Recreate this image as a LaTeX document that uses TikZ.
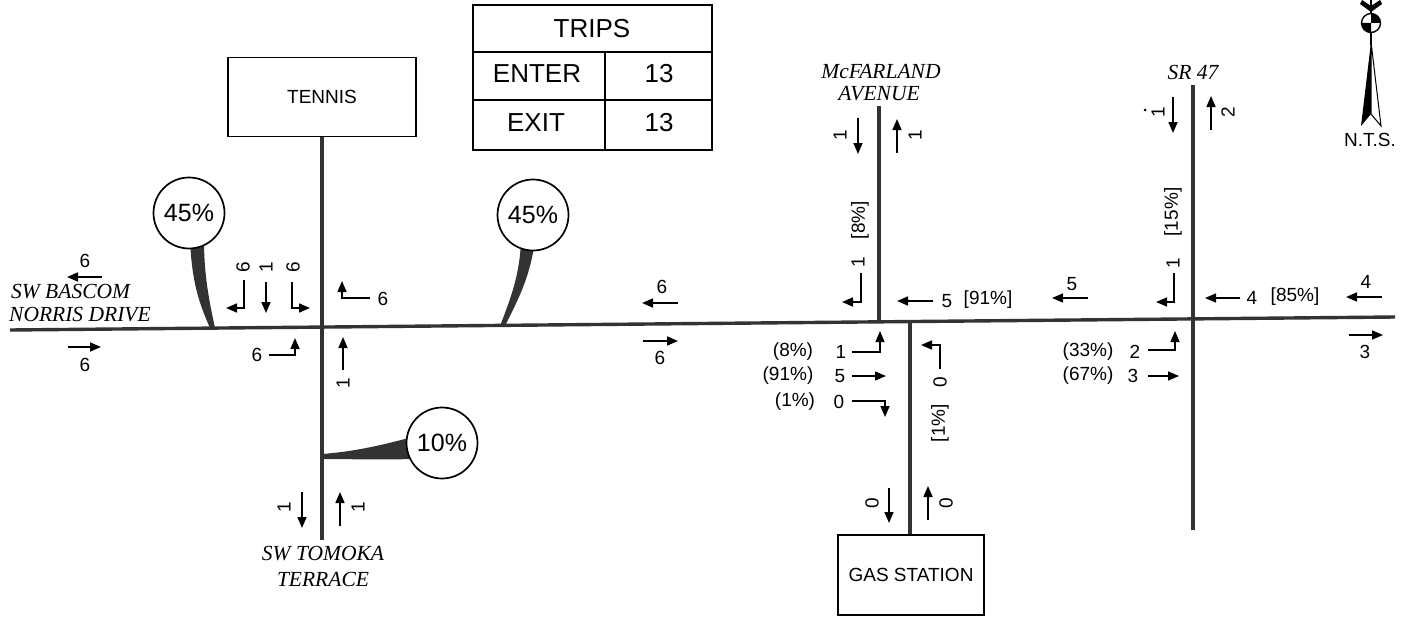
\documentclass[tikz,border=0pt]{standalone}
\usepackage{fontspec}
\setmainfont{Liberation Serif}
\setsansfont{Liberation Sans}
\usetikzlibrary{arrows.meta}
\begin{document}
\begin{tikzpicture}[x=1pt,y=-1pt,
 road/.style={line width=3.4pt, draw=black!80},
 mv/.style={line width=1.6pt, -{Triangle[length=11pt,width=9pt]}},
 lbl/.style={font=\sffamily\fontsize{19}{21}\selectfont, inner sep=0pt},
 vlbl/.style={lbl, rotate=90},
 street/.style={font=\rmfamily\itshape\fontsize{21.5}{23}\selectfont, inner sep=0pt},
 boxn/.style={draw, line width=1.3pt, inner sep=0pt, font=\sffamily\fontsize{19}{21}\selectfont},
 tbl/.style={font=\sffamily\fontsize{26}{28}\selectfont, inner sep=0pt},
 bubble/.style={circle, draw, line width=1.7pt, fill=white, minimum size=71pt, inner sep=0pt, font=\sffamily\fontsize{25}{27}\selectfont},
 ptr/.style={fill=black!80}]
\useasboundingbox (0,0) rectangle (1405,618);

% ---- boxes
\node[boxn, minimum width=188pt, minimum height=79pt] (tennis) at (322,97) {TENNIS};
\node[boxn, minimum width=146pt, minimum height=80pt] (gas) at (911,575) {GAS STATION};

% ---- coordinates
\coordinate (wend) at (10,330);
\coordinate (eend) at (1395,317);
\coordinate (tomokaend) at (322,540);
\coordinate (mctop) at (879,106);
\coordinate (mcint) at (879,322);
\coordinate (gasint) at (910,322);
\coordinate (srtop) at (1193,85);
\coordinate (srbot) at (1193,530);

% ---- roads
\draw[road] (wend) -- (eend);
\draw[road] (tennis.south) -- (tomokaend);
\draw[road] (mctop) -- (mcint);
\draw[road] (gasint) -- (gas.north -| gasint);
\draw[road] (srtop) -- (srbot);

% ---- trips table
\draw[line width=1.3pt] (473,5) rectangle (712,150);
\draw[line width=1.3pt] (473,52) -- (712,52);
\draw[line width=1.3pt] (473,100) -- (712,100);
\draw[line width=1.3pt] (605,52) -- (605,150);
\node[tbl] (ttrips) at (592,29) {TRIPS};
\node[tbl] (tenter) at (537,74) {ENTER};
\node[tbl] (tenterv) at (659,74) {13};
\node[tbl] (texit) at (536,123) {EXIT};
\node[tbl] (texitv) at (659,123) {13};

% ---- street names
\node[street, anchor=west] (bas1) at (11,292) {SW BASCOM};
\node[street, anchor=west] (bas2) at (9,315) {NORRIS DRIVE};
\node[street] (tom1) at (323,554) {SW TOMOKA};
\node[street] (tom2) at (323,579) {TERRACE};
\node[street] (mc1) at (881,72) {McFARLAND};
\node[street] (mc2) at (879,94) {AVENUE};
\node[street] (sr) at (1193,72) {SR 47};

% ---- west leg
\draw[mv] (102,277) -- (67,277); \node[lbl] (a1) at (85,261) {6};
\draw[mv] (68,347) -- (101,347); \node[lbl] (a2) at (85,365) {6};

% ---- Tennis intersection
\draw[mv] (244,280) -- (244,308) -- (226,308); \node[vlbl] (a3) at (243,267) {6};
\draw[mv] (266,282) -- (266,313); \node[vlbl] (a4) at (266,267) {1};
\draw[mv] (292,282) -- (292,308) -- (310,308); \node[vlbl] (a5) at (293,267) {6};
\draw[mv] (370,298) -- (342,298) -- (342,281); \node[lbl] (a6) at (383,299) {6};
\draw[mv] (269,355) -- (295,355) -- (295,338); \node[lbl] (a7) at (257,355) {6};
\draw[mv] (343,370) -- (343,337); \node[vlbl] (a8) at (343,383) {1};
\draw[mv] (302,492) -- (302,528); \node[vlbl] (a9) at (284,507) {1};
\draw[mv] (340,526) -- (340,492); \node[vlbl] (a10) at (358,507) {1};

% ---- middle
\draw[mv] (678,303) -- (642,303); \node[lbl] (a11) at (662,287) {6};
\draw[mv] (643,341) -- (678,341); \node[lbl] (a12) at (660,358) {6};

% ---- McFarland
\draw[mv] (858,118) -- (858,154); \node[vlbl] (b1l) at (840,135) {1};
\draw[mv] (897,153) -- (897,119); \node[vlbl] (b2l) at (915,135) {1};
\node[vlbl] (b3l) at (860,220) {[8\%]};
\node[vlbl] (b4l) at (858,262) {1};
\draw[mv] (861,273) -- (861,302) -- (842,302);
\draw[mv] (933,301) -- (897,301); \node[lbl] (b5l) at (947,301) {5};
\node[lbl] (b6l) at (988,300) {[91\%]};
\node[lbl] (b7l) at (793,352) {(8\%)}; \node[lbl] (b8l) at (841,352) {1};
\draw[mv] (852,352) -- (880,352) -- (880,331);
\node[lbl] (b9l) at (788,376) {(91\%)}; \node[lbl] (b10l) at (840,376) {5};
\draw[mv] (852,376) -- (886,376);
\node[lbl] (b11l) at (795,402) {(1\%)}; \node[lbl] (b12l) at (839,402) {0};
\draw[mv] (852,401) -- (885,401) -- (885,417);

% ---- gas station drive
\draw[mv] (940,369) -- (940,345) -- (921,345);
\node[vlbl] (c1l) at (940,382) {0};
\node[vlbl] (c2l) at (940,423) {[1\%]};
\draw[mv] (889,488) -- (889,523); \node[vlbl] (c3l) at (872,503) {0};
\draw[mv] (928,520) -- (928,486); \node[vlbl] (c4l) at (946,503) {0};

% ---- SR 47
\draw[mv] (1173,97) -- (1173,133); \node[vlbl] (d1l) at (1158,112) {1};
\fill (1145,110) circle[radius=1.5];
\draw[mv] (1211,130) -- (1211,96); \node[vlbl] (d2l) at (1228,112) {2};
\node[vlbl] (d3l) at (1173,212) {[15\%]};
\node[vlbl] (d4l) at (1173,263) {1};
\draw[mv] (1174,273) -- (1174,302) -- (1156,302);
\draw[mv] (1088,298) -- (1052,298); \node[lbl] (d5l) at (1072,284) {5};
\draw[mv] (1240,298) -- (1205,298); \node[lbl] (d6l) at (1252,298) {4};
\node[lbl] (d7l) at (1295,297) {[85\%]};
\draw[mv] (1382,297) -- (1346,297); \node[lbl] (d8l) at (1366,282) {4};
\draw[mv] (1349,335) -- (1383,335); \node[lbl] (d9l) at (1365,352) {3};
\node[lbl] (d10l) at (1088,352) {(33\%)}; \node[lbl] (d11l) at (1135,352) {2};
\draw[mv] (1148,350) -- (1175,350) -- (1175,331);
\node[lbl] (d12l) at (1088,376) {(67\%)}; \node[lbl] (d13l) at (1133,376) {3};
\draw[mv] (1148,376) -- (1179,376);

% ---- bubbles
\fill[ptr] (190,240) .. controls (192,285) and (200,305) .. (210,328) -- (215,328) .. controls (209,300) and (204,275) .. (204,240) -- cycle;
\node[bubble] (p1) at (189,213) {45\%};
\fill[ptr] (521,240) .. controls (520,275) and (510,300) .. (500,326) -- (505,326) .. controls (515,305) and (530,280) .. (535,240) -- cycle;
\node[bubble] (p2) at (533,215) {45\%};
\fill[ptr] (412,437) .. controls (380,446) and (350,452) .. (322,454) -- (322,459) .. controls (350,459) and (380,460) .. (412,459) -- cycle;
\node[bubble] (p3) at (442,443) {10\%};

% ---- north arrow
\draw[line width=1.4pt] (1371,0) -- (1371,45);
\fill (1362,0) -- (1371,6) -- (1380,0) -- (1382,4) -- (1371,12) -- (1360,4) -- cycle;
\fill[black] (1371,42) -- (1361,126) -- (1371,114) -- cycle;
\draw[line width=1pt, fill=white] (1371,42) -- (1381,126) -- (1371,114) -- cycle;
\draw[line width=1.4pt, fill=white] (1371,23) circle[radius=9.5];
\fill (1371,23) -- (1380.5,23) arc[start angle=0, end angle=-90, radius=9.5] -- cycle;
\fill (1371,23) -- (1361.5,23) arc[start angle=180, end angle=90, radius=9.5] -- cycle;
\node[lbl] (nts) at (1370,140) {N.T.S.};
\end{tikzpicture}
\end{document}
